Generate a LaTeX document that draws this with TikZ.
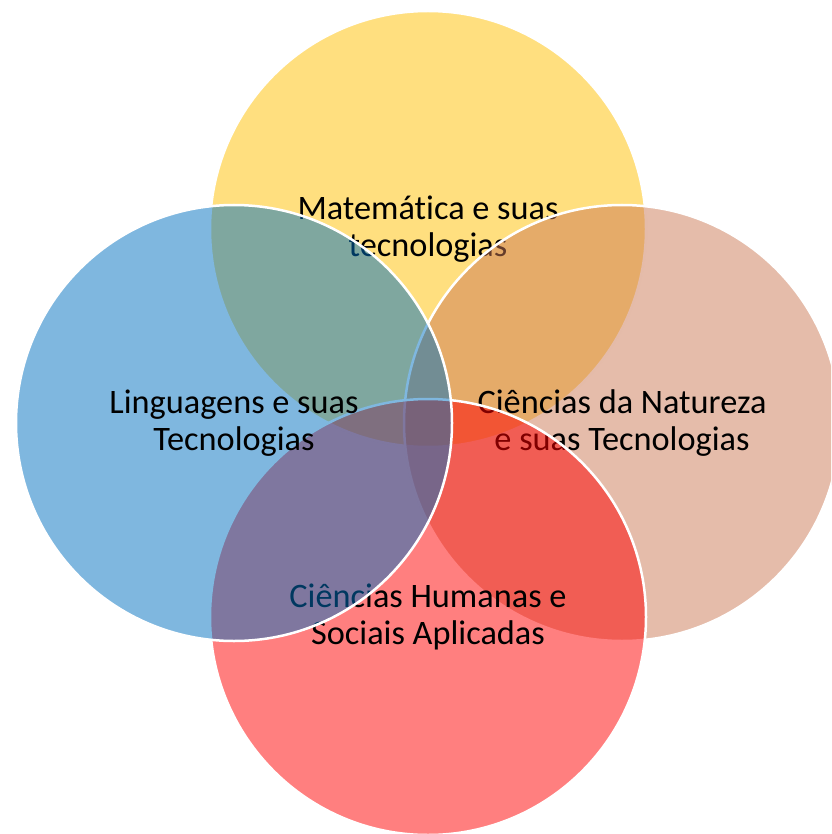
\documentclass[tikz,border=0pt]{standalone}
\usepackage{fontspec}
\setmainfont{Carlito}[Ligatures=NoCommon]
\usepackage{tikz,xcolor}
\definecolor{matcolor}{HTML}{FFC000}
\definecolor{natcolor}{HTML}{CB7955}
\definecolor{humcolor}{HTML}{FF0000}
\definecolor{lincolor}{HTML}{0070C0}
\tikzstyle{field} = [circle, minimum size=436pt, inner sep=0pt, draw=white, line width=2.5pt,
    fill opacity=0.5, draw opacity=1, text opacity=1, text=black, align=center,
    font=\fontsize{34.3}{37.7}\selectfont]

\begin{document}
\begin{tikzpicture}[x=1pt, y=-1pt]
\useasboundingbox (0,0) rectangle (831,834);
\clip (0,0) rectangle (831,834);
\node[field, fill=matcolor] (mat) at (428,229) {Matemática e suas\\tecnologias};
\node[field, fill=natcolor] (nat) at (622,423) {Ciências da Natureza\\e suas Tecnologias};
\node[field, fill=humcolor] (hum) at (428,617) {Ciências Humanas e\\Sociais Aplicadas};
\node[field, fill=lincolor] (lin) at (234,423) {Linguagens e suas\\Tecnologias};
\end{tikzpicture}
\end{document}
